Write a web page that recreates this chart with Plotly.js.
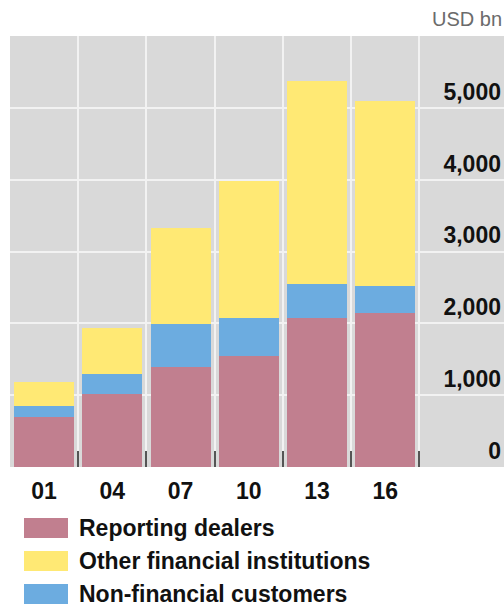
<!DOCTYPE html>
<html>
<head>
<meta charset="utf-8">
<script src="https://cdn.plot.ly/plotly-3.0.1.min.js"></script>
<style>
html,body{margin:0;padding:0;background:#fff;}
#chart{width:504px;height:606px;}
</style>
</head>
<body>
<div id="chart"></div>
<script>
// Data (USD bn)
const categories = ['01', '04', '07', '10', '13', '16'];
const reportingDealers = [695, 1011, 1396, 1540, 2068, 2142];
const nonFinancial = [159, 278, 589, 528, 477, 371];
const otherFinancial = [328, 640, 1345, 1912, 2825, 2587];
const seriesNames = ['Reporting dealers', 'Other financial institutions', 'Non-financial customers'];
const yTickVals = [0, 1000, 2000, 3000, 4000, 5000, 6000];
const yTickText = ['0', '1,000', '2,000', '3,000', '4,000', '5,000', ''];
const unitLabel = 'USD bn';

const colors = {
  'Reporting dealers': '#C17F8F',
  'Other financial institutions': '#FFE974',
  'Non-financial customers': '#6CACE0'
};

const FONT = 'Liberation Sans, Arial, Helvetica, sans-serif';

const traces = [
  {name: seriesNames[0], y: reportingDealers},
  {name: seriesNames[2], y: nonFinancial},
  {name: seriesNames[1], y: otherFinancial}
].map(s => ({
  type: 'bar', x: categories, y: s.y, name: s.name,
  marker: {color: colors[s.name], line: {width: 0}},
  showlegend: false, hoverinfo: 'skip'
}));

// Custom legend (shapes + annotations in paper coordinates)
const plotH = 431, plotW = 494;
const legendRowsPx = [61, 94, 127]; // px below plot bottom
const shapes = [], annotations = [];
seriesNames.forEach((n, i) => {
  const yc = -legendRowsPx[i] / plotH;
  shapes.push({
    type: 'rect', xref: 'paper', yref: 'paper',
    x0: 14 / plotW, x1: 58 / plotW,
    y0: yc - 10 / plotH, y1: yc + 10 / plotH,
    fillcolor: colors[n], line: {width: 0}
  });
  annotations.push({
    xref: 'paper', yref: 'paper', x: 67 / plotW, y: yc,
    xanchor: 'left', yanchor: 'middle', showarrow: false,
    text: '<b>' + n + '</b>', font: {family: FONT, size: 23, color: '#111'}
  });
});
annotations.push({
  xref: 'paper', yref: 'paper', x: 1, y: 1, xanchor: 'right', yanchor: 'bottom',
  yshift: 4, xshift: 0, showarrow: false, text: unitLabel,
  font: {family: FONT, size: 20, color: '#6b6b6b'}
});

const layout = {
  width: 504, height: 606,
  margin: {l: 10, r: 0, t: 36, b: 139},
  paper_bgcolor: '#ffffff',
  plot_bgcolor: '#D9D9D9',
  barmode: 'stack',
  bargap: 0.12,
  font: {family: FONT, size: 22, color: '#111'},
  xaxis: {
    type: 'category',
    range: [-0.5, 6.74],
    tickson: 'boundaries',
    showgrid: true, gridcolor: '#F2F2F2', gridwidth: 2,
    ticks: 'inside', ticklen: 16, tickwidth: 2, tickcolor: '#555',
    ticklabelstandoff: 8,
    tickfont: {family: FONT, size: 23, color: '#111', weight: 'bold'},
    showline: false, zeroline: false, fixedrange: true
  },
  yaxis: {
    range: [0, 6000],
    side: 'right',
    tickmode: 'array', tickvals: yTickVals, ticktext: yTickText,
    ticklabelposition: 'inside top',
    ticks: '',
    showgrid: true, gridcolor: '#F2F2F2', gridwidth: 2,
    tickfont: {family: FONT, size: 23, color: '#111', weight: 'bold'},
    showline: false, zeroline: false, fixedrange: true
  },
  shapes: shapes,
  annotations: annotations
};

Plotly.newPlot('chart', traces, layout, {displayModeBar: false, staticPlot: true});
</script>
</body>
</html>
